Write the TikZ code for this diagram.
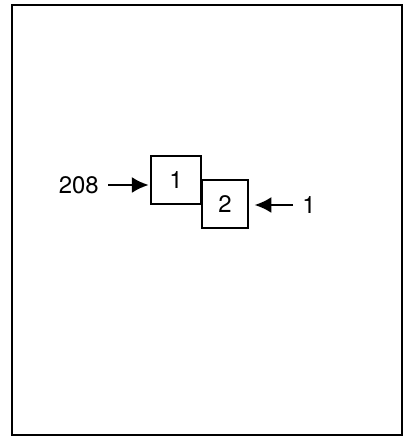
\documentclass[tikz,border=0pt]{standalone}
\usepackage{fontspec}
\setmainfont{TeX Gyre Heros}
\usetikzlibrary{arrows.meta,positioning}
\begin{document}
\begin{tikzpicture}[
        x=0.025cm, y=-0.025cm,
        every node/.style={font=\fontsize{17}{20}\selectfont},
        cell/.style={rectangle, draw, line width=1.3pt, fill=white,
            minimum width=1.25cm, minimum height=1.2cm, inner sep=0pt},
        feed/.style={-{Latex[length=4.2mm, width=4mm]}, line width=1.6pt}
      ]
      \useasboundingbox (0, 0) rectangle (408, 438);
      \draw[line width=1.4pt] (12, 5) rectangle (402, 435);
      \node[cell] (one) at (176, 180) {1};
      \node[cell, minimum width=1.15cm] (two) at (225, 204) {2};
      \node[anchor=east, inner sep=0pt] (left) at (99, 185) {208};
      \node[anchor=west, inner sep=0pt] (right) at (302, 205) {1};
      \draw[feed] (left.east) ++(9, 0) coordinate (lefttail) -- ([xshift=-1pt]one.west |- lefttail);
      \draw[feed] (right.west) ++(-9, 0) coordinate (righttail) -- ([xshift=4pt]two.east |- righttail);
    \end{tikzpicture}
\end{document}
